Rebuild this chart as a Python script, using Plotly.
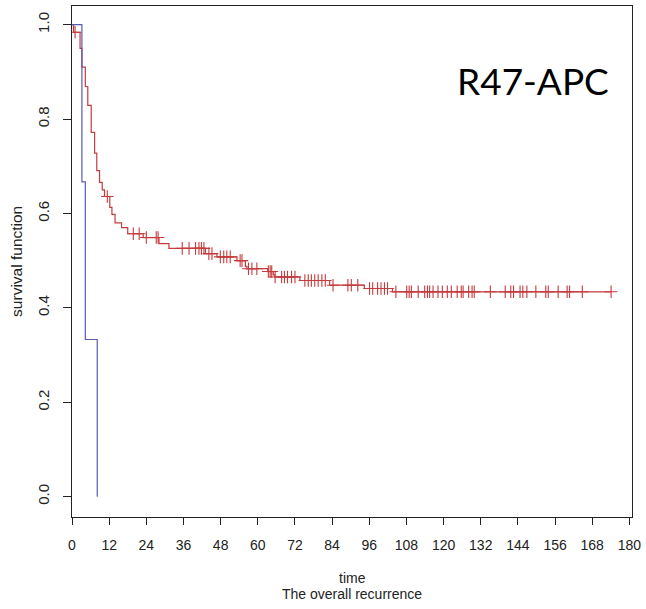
import numpy as np
import plotly.graph_objects as go

# ---- data ----
red_times = [0, 0.5, 2.6, 3.2, 4.3, 5.1, 6.2, 7.3, 8.0, 8.9, 9.75, 10.5, 12.2, 12.9, 13.9,
             16.0, 18.0, 23.0, 28.1, 31.3, 43.1, 46.8, 53.3, 56.0, 56.5, 63.2, 65.0, 65.5,
             73.6, 83.2, 94.4, 103.5]
red_surv = [1.0, 0.984, 0.950, 0.910, 0.869, 0.829, 0.772, 0.728, 0.691, 0.666, 0.650, 0.636,
            0.613, 0.598, 0.580, 0.570, 0.557, 0.549, 0.536, 0.526, 0.515, 0.508, 0.500, 0.488,
            0.483, 0.477, 0.470, 0.4655, 0.458, 0.448, 0.441, 0.434]
red_censor = [1.0, 11.4, 19.8, 21.7, 24.0, 27.2, 27.8, 35.6, 37.8, 39.9, 41.0, 41.8, 42.6,
              44.2, 45.2, 47.9, 49.0, 50.0, 51.1, 54.3, 54.9, 57.0, 58.1, 59.7, 63.4, 64.0,
              64.5, 65.6, 67.7, 68.6, 69.6, 70.9, 72.0, 75.2, 76.3, 77.3, 78.4, 79.5, 80.7,
              81.8, 84.3, 89.1, 90.2, 92.3, 96.1, 97.1, 98.7, 99.8, 100.9, 101.9, 104.6,
              108.1, 108.9, 109.6, 111.8, 113.9, 114.8, 115.5, 116.6, 118.2, 119.6, 121.2,
              122.5, 124.4, 125.7, 126.3, 128.1, 129.2, 129.9, 135.1, 139.9, 141.7, 142.6,
              144.7, 145.6, 146.9, 149.8, 153.0, 153.8, 157.0, 159.9, 160.7, 164.8, 174.1]

blue_times = [0, 3.2, 4.3, 8.15]
blue_surv = [1.0, 0.667, 0.333, 0.0]

x_ticks = [0, 12, 24, 36, 48, 60, 72, 84, 96, 108, 120, 132, 144, 156, 168, 180]
y_ticks = [0.0, 0.2, 0.4, 0.6, 0.8, 1.0]

RED = "#C63A3C"
BLUE = "#5A5AB4"

# step lookup for censor-mark heights
rt = np.array(red_times)
rs = np.array(red_surv)
cens = np.array(red_censor)
cens_y = rs[np.searchsorted(rt, cens, side="right") - 1]

line_x = list(red_times) + [red_censor[-1]]
line_y = list(red_surv) + [red_surv[-1]]

fig = go.Figure()
fig.add_trace(go.Scatter(x=line_x, y=line_y, mode="lines", line_shape="hv",
                         line=dict(color=RED, width=1.2), showlegend=False, hoverinfo="skip"))
fig.add_trace(go.Scatter(x=cens, y=cens_y, mode="markers",
                         marker=dict(symbol="cross-thin", size=9, color=RED,
                                     line=dict(color=RED, width=1.1)),
                         showlegend=False, hoverinfo="skip"))
fig.add_trace(go.Scatter(x=blue_times, y=blue_surv, mode="lines", line_shape="hv",
                         line=dict(color=BLUE, width=1.2), showlegend=False, hoverinfo="skip"))

L, R, T, B = 72, 636, 5, 517
W, H = 646, 609


def px(xp):
    return (xp - L) / (R - L)


def py(yp):
    return (B - yp) / (B - T)


FONT = "Liberation Sans, Arial, sans-serif"

fig.update_layout(
    width=W, height=H,
    margin=dict(l=L, r=W - R, t=T, b=H - B, pad=0),
    paper_bgcolor="white", plot_bgcolor="white",
    font=dict(family=FONT, color="#222222"),
    xaxis=dict(range=[0, 180.85], tickvals=x_ticks, ticktext=[str(v) for v in x_ticks],
               showgrid=False, zeroline=False, showline=True, mirror=True,
               linecolor="#222222", linewidth=1, ticks="outside", ticklen=7,
               tickcolor="#222222", tickwidth=1, tickfont=dict(size=14, family=FONT),
               ticklabelstandoff=8),
    yaxis=dict(range=[-0.0431, 1.0396], tickvals=y_ticks,
               ticktext=["%.1f" % v for v in y_ticks], tickangle=-90,
               showgrid=False, zeroline=False, showline=True, mirror=True,
               linecolor="#222222", linewidth=1, ticks="outside", ticklen=8,
               tickcolor="#222222", tickwidth=1, tickfont=dict(size=15, family=FONT),
               ticklabelstandoff=8),
    annotations=[
        dict(text="R47-APC", x=px(536), y=py(80), xref="paper", yref="paper",
             showarrow=False, xanchor="center", yanchor="middle",
             font=dict(family="Lato, Carlito, sans-serif", size=37, color="#000000")),
        dict(text="survival function", x=px(16), y=py(261), xref="paper", yref="paper",
             showarrow=False, xanchor="center", yanchor="middle", textangle=-90,
             font=dict(family=FONT, size=15.5, color="#222222")),
        dict(text="time", x=px(354), y=py(578), xref="paper", yref="paper",
             showarrow=False, xanchor="center", yanchor="middle",
             font=dict(family=FONT, size=14, color="#222222")),
        dict(text="The overall recurrence", x=px(354), y=py(594), xref="paper", yref="paper",
             showarrow=False, xanchor="center", yanchor="middle",
             font=dict(family=FONT, size=14, color="#222222")),
    ],
)

fig.write_html("out.html")
